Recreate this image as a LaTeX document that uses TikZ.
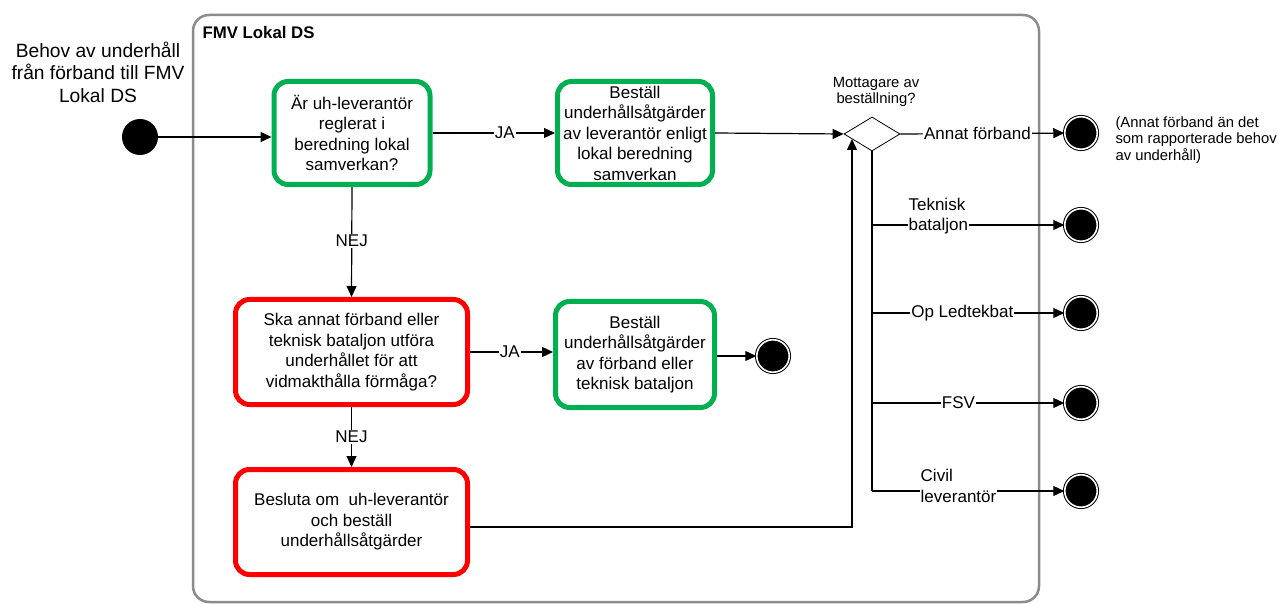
\documentclass[tikz,border=0pt]{standalone}
\usepackage{fontspec}
\setmainfont{Liberation Sans}
\usetikzlibrary{arrows.meta,shapes.geometric,calc}
\definecolor{boxgreen}{RGB}{0,176,80}
\definecolor{boxred}{RGB}{255,0,0}
\definecolor{framegray}{RGB}{140,140,140}
\begin{document}
\begin{tikzpicture}[x=1pt,y=-1pt,
 every node/.style={font=\fontsize{17}{20.5}\selectfont},
 box/.style={draw, rounded corners=14pt, line width=5pt, align=center, inner sep=2pt},
 gbox/.style={box, draw=boxgreen},
 rbox/.style={box, draw=boxred},
 conn/.style={line width=1.2pt, -{Triangle[length=11pt,width=10pt]}},
 plainline/.style={line width=1.2pt},
 lbl/.style={fill=white, inner sep=1pt},
 endnode/.style={circle, fill=black, draw=black, double=white, double distance=1.6pt, line width=1pt, minimum size=32.5pt, inner sep=0pt},
 smalltext/.style={font=\fontsize{14.8}{16.8}\selectfont},
]
\useasboundingbox (0,0) rectangle (1278,604);
\fill[white] (0,0) rectangle (1278,604);

% container
\draw[draw=framegray, line width=2.5pt, rounded corners=16pt] (193,15) rectangle (1039,602);
\node[font=\bfseries\fontsize{16.8}{18}\selectfont, anchor=west] (title) at (199,32) {FMV Lokal DS};

% start
\node[font=\fontsize{19.2}{22.5}\selectfont, align=center] (start label) at (98,72) {Behov av underhåll\\från förband till FMV\\Lokal DS};
\node[circle, fill=black, minimum size=36pt, inner sep=0pt] (s) at (140,137) {};

% boxes
\node[gbox, minimum width=156pt, minimum height=103pt] (b1) at (352,133) {Är uh-leverantör\\reglerat i\\beredning lokal\\samverkan?};
\node[gbox, minimum width=155pt, minimum height=103pt] (b2) at (635,133) {Beställ\\underhållsåtgärder\\av leverantör enligt\\lokal beredning\\samverkan};
\node[rbox, minimum width=232pt, minimum height=105pt] (b3) at (351.5,352) {Ska annat förband eller\\teknisk bataljon utföra\\underhållet för att\\vidmakthålla förmåga?};
\node[gbox, minimum width=159pt, minimum height=106pt] (b4) at (635,354.5) {Beställ\\underhållsåtgärder\\av förband eller\\teknisk bataljon};
\node[rbox, minimum width=232pt, minimum height=105pt] (b5) at (351.5,522) {Besluta om\ \ uh-leverantör\\och beställ\\underhållsåtgärder};

% decision
\node[diamond, draw, line width=0.8pt, minimum width=56pt, minimum height=34pt, inner sep=0pt] (dm) at (872,134) {};
\node[smalltext, align=center] (dm label) at (876,92) {Mottagare av\\beställning?};
\coordinate (dmin) at (852,139);

% end nodes
\node[endnode] (e1) at (1081,133) {};
\node[endnode] (e2) at (1081,225) {};
\node[endnode] (e3) at (1081,313) {};
\node[endnode] (e4) at (1081,403) {};
\node[endnode] (e5) at (1081,491) {};
\node[endnode] (e6) at (773,356) {};
\node[smalltext, align=left, anchor=west] (note) at (1112,140) {(Annat förband än det\\som rapporterade behov\\av underhåll)};

% connectors
\draw[conn] (s.east) -- (s.east -| b1.west);
\draw[conn] (b1.east) -- node[lbl, pos=0.59]{JA} (b2.west);
\draw[conn] (b2.east) -- (dm.west);
\draw[conn] (b1.south) -- node[lbl, pos=0.49]{NEJ} (b3.north);
\draw[conn] (b3.east) -- node[lbl, pos=0.48]{JA} (b3.east -| b4.west);
\draw[conn] (b4.east |- e6) -- (e6);
\draw[conn] (b3.south) -- node[lbl, pos=0.5]{NEJ} (b5.north);
\draw[conn] ([yshift=-5pt]b5.east) -| (dmin);

\draw[conn] (dm.east) -- node[lbl, pos=0.47]{Annat förband} (e1);
\draw[plainline] (dm.south) -- (dm.south |- e5);
\draw[conn] (dm.south |- e2) -- node[lbl, pos=0.345, yshift=9pt, align=left]{Teknisk\\bataljon} (e2);
\draw[conn] (dm.south |- e3) -- node[lbl, pos=0.47]{Op Ledtekbat} (e3);
\draw[conn] (dm.south |- e4) -- node[lbl, pos=0.45]{FSV} (e4);
\draw[conn] (dm.south |- e5) -- node[lbl, pos=0.45, yshift=5pt, align=left]{Civil\\leverantör} (e5);
\end{tikzpicture}
\end{document}
